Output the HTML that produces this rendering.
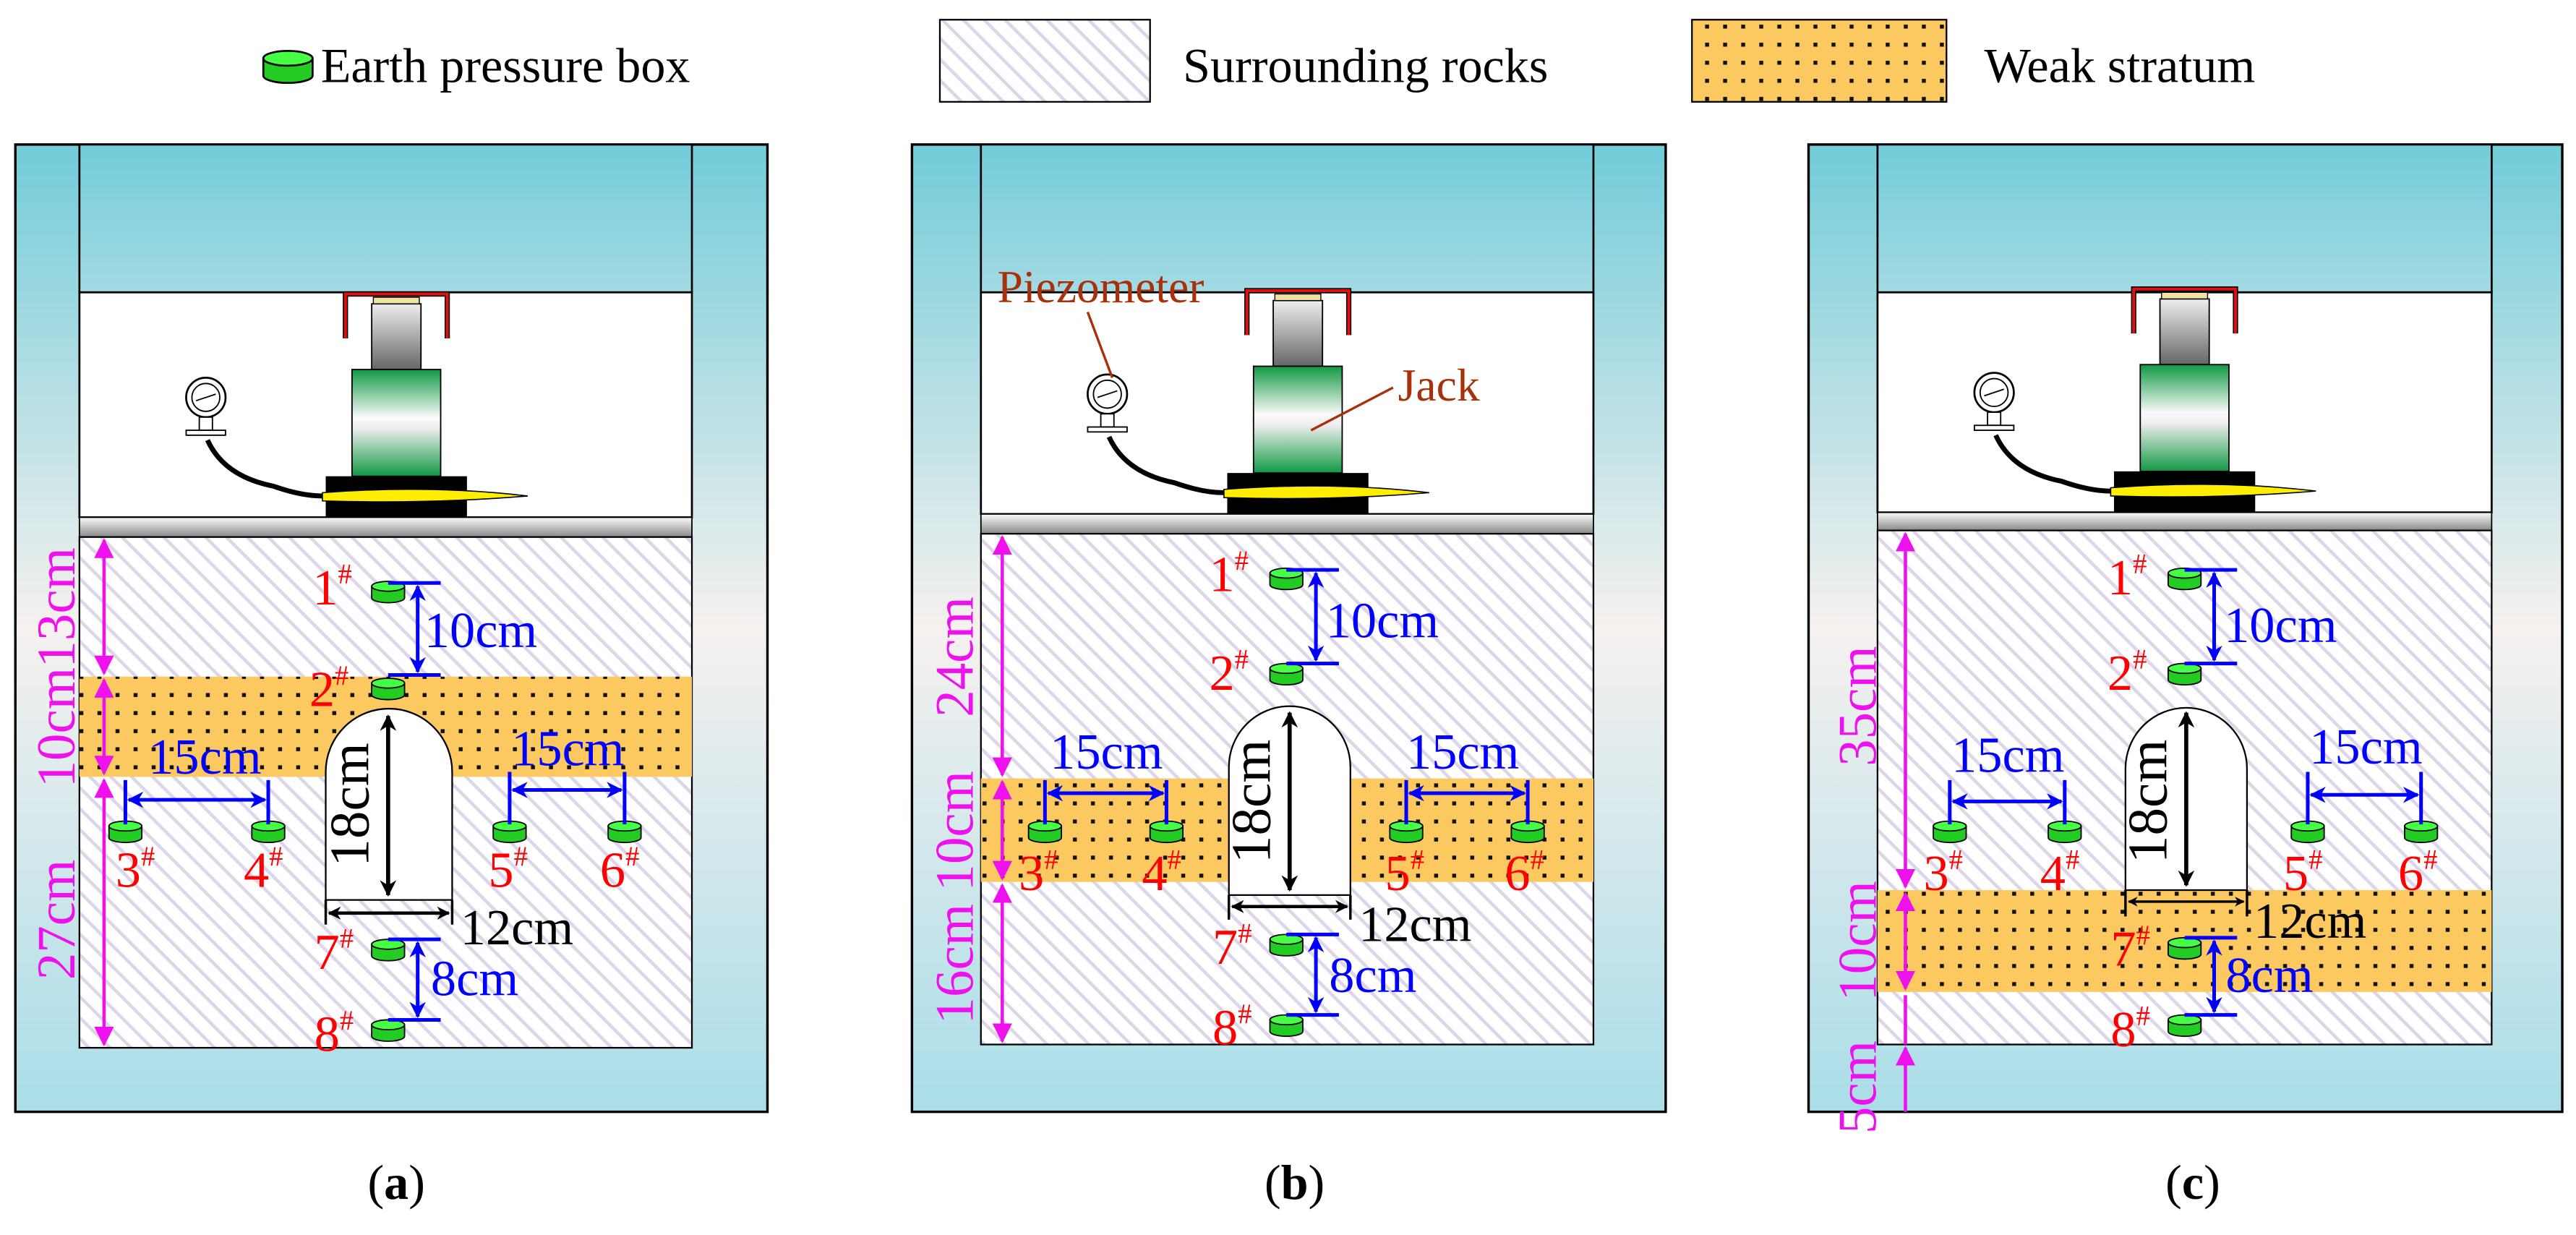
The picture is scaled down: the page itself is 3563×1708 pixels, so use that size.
<!DOCTYPE html>
<html><head><meta charset="utf-8"><style>html,body{margin:0;padding:0;background:#fff}svg{display:block}</style></head><body>
<svg width="3563" height="1708" viewBox="0 0 1568 752" xmlns="http://www.w3.org/2000/svg" font-family="'Liberation Serif',serif">
<defs>
<linearGradient id="fr" x1="0" y1="0" x2="0" y2="1"><stop offset="0" stop-color="#72ccd9"/><stop offset="0.5" stop-color="#f6f1ef"/><stop offset="1" stop-color="#a9dde8"/></linearGradient>
<linearGradient id="bm" x1="0" y1="0" x2="0" y2="1"><stop offset="0" stop-color="#72ccd9"/><stop offset="1" stop-color="#a3dae4"/></linearGradient>
<linearGradient id="pl" x1="0" y1="0" x2="0" y2="1"><stop offset="0" stop-color="#fafafa"/><stop offset="1" stop-color="#8a8a8a"/></linearGradient>
<linearGradient id="st" x1="0" y1="0" x2="0" y2="1"><stop offset="0" stop-color="#eee"/><stop offset="1" stop-color="#666"/></linearGradient>
<linearGradient id="gc" x1="0" y1="0" x2="0" y2="1"><stop offset="0" stop-color="#119944"/><stop offset="0.45" stop-color="#fafafa"/><stop offset="0.55" stop-color="#eee"/><stop offset="1" stop-color="#119944"/></linearGradient>
<pattern id="hat" width="9" height="9" patternUnits="userSpaceOnUse" patternTransform="rotate(-45)"><rect width="9" height="9" fill="#fff"/><rect width="2" height="9" fill="#ddd6ea"/></pattern>
<pattern id="dot" width="11" height="11" patternUnits="userSpaceOnUse"><rect width="11" height="11" fill="#fbc960"/><rect x="4" y="4" width="2.4" height="2.4" fill="#111"/></pattern>
<marker id="ab" viewBox="0 0 10 10" refX="9" refY="5" markerWidth="4.5" markerHeight="4.5" orient="auto-start-reverse"><path d="M0,0L10,5L0,10L3,5Z" fill="#0000ff"/></marker>
<marker id="ak" viewBox="0 0 10 10" refX="9" refY="5" markerWidth="4" markerHeight="4" orient="auto-start-reverse"><path d="M0,0L10,5L0,10L3,5Z" fill="#000"/></marker>
<marker id="ap" viewBox="0 0 10 10" refX="9" refY="5" markerWidth="6" markerHeight="6" orient="auto-start-reverse"><path d="M0,0L10,5L0,10Z" fill="#ee11ee"/></marker>
<g id="sen"><path d="M-10,-3V4A10,3 0 0 0 10,4V-3Z" fill="#22cc22" stroke="#000" stroke-width="0.8"/><ellipse cx="0" cy="-3" rx="10" ry="3" fill="#44ff44" stroke="#000" stroke-width="0.8"/></g>
<g id="jack">
<rect x="-15" y="7" width="30" height="40" fill="url(#st)" stroke="#000" stroke-width="0.8"/>
<rect x="-14" y="3" width="28" height="4" fill="#f2e2a0" stroke="#000" stroke-width="0.6"/>
<path d="M-31,28V1H31V28" fill="none" stroke="#000" stroke-width="3.2"/><path d="M-31,28V1H31V28" fill="none" stroke="#e01010" stroke-width="1.8"/>
<rect x="-27" y="47" width="54" height="65" fill="url(#gc)" stroke="#000" stroke-width="0.8"/>
<rect x="-43" y="112" width="86" height="25" fill="#000"/>
<path d="M-45,122Q20,117 80,124Q20,129 -45,127Z" fill="#ffee00" stroke="#000" stroke-width="0.7"/>
<path d="M-115,90Q-105,112 -75,118Q-58,124 -45,124" fill="none" stroke="#000" stroke-width="3"/>
<circle cx="-116" cy="64" r="12" fill="#fff" stroke="#000" stroke-width="1.2"/><circle cx="-116" cy="64" r="8.5" fill="#fff" stroke="#000" stroke-width="0.8"/>
<line x1="-122" y1="66" x2="-110" y2="62" stroke="#000" stroke-width="0.8"/>
<rect x="-120" y="76" width="8" height="8" fill="#fff" stroke="#000" stroke-width="0.8"/><rect x="-128" y="84" width="24" height="3" fill="#fff" stroke="#000" stroke-width="0.8"/>
</g>
</defs>

<!-- Legend -->
<use href="#sen" transform="translate(175,40) scale(1.5)"/>
<text x="195" y="50" font-size="30">Earth pressure box</text>
<rect x="572" y="12" width="128" height="50" fill="url(#hat)" stroke="#000" stroke-width="1"/>
<text x="720" y="50" font-size="30">Surrounding rocks</text>
<rect x="1030" y="12" width="155" height="50" fill="url(#dot)" stroke="#000" stroke-width="1"/>
<text x="1208" y="50" font-size="30">Weak stratum</text>

<g font-size="31" font-family="'Liberation Serif',serif">
<!-- PANEL A -->
<rect x="9" y="88" width="458" height="589" fill="url(#fr)" stroke="#000" stroke-width="1.5"/>
<rect x="48" y="88" width="373" height="90" fill="url(#bm)" stroke="#000" stroke-width="1.2"/>
<rect x="48" y="178" width="373" height="137" fill="#fff" stroke="#000" stroke-width="1.2"/>
<use href="#jack" transform="translate(241,178)"/>
<rect x="48" y="315" width="373" height="12" fill="url(#pl)" stroke="#000" stroke-width="0.8"/>
<rect x="48" y="327" width="373" height="311" fill="url(#hat)" stroke="#000" stroke-width="1"/>
<rect x="48" y="412" width="373" height="61" fill="url(#dot)"/>
<path d="M198,548V470A38.5,38.5 0 0 1 275,470V548Z" fill="#fff" stroke="#000" stroke-width="1"/>
<line x1="236" y1="436" x2="236" y2="545" stroke="#000" stroke-width="2.5" marker-start="url(#ak)" marker-end="url(#ak)"/>
<text transform="translate(224,490) rotate(-90)" text-anchor="middle" font-size="34">18cm</text>
<path d="M198,548V563M275,548V563" stroke="#000" stroke-width="1.5"/>
<line x1="200" y1="556" x2="273" y2="556" stroke="#000" stroke-width="2" marker-start="url(#ak)" marker-end="url(#ak)"/>
<text x="280" y="575">12cm</text>
<use href="#sen" transform="translate(236,360)"/><use href="#sen" transform="translate(236,419)"/>
<use href="#sen" transform="translate(76,506)"/><use href="#sen" transform="translate(163,506)"/>
<use href="#sen" transform="translate(310,506)"/><use href="#sen" transform="translate(380,506)"/>
<use href="#sen" transform="translate(236,578)"/><use href="#sen" transform="translate(236,627)"/>
<g stroke="#0000ff" stroke-width="2.2" fill="none">
<path d="M236,355H268M236,411H268M76,475V502M163,475V502M310,470V502M380,470V502M236,572H268M236,621H268"/>
<line x1="254" y1="357" x2="254" y2="409" marker-start="url(#ab)" marker-end="url(#ab)"/>
<line x1="78" y1="487" x2="161" y2="487" marker-start="url(#ab)" marker-end="url(#ab)"/>
<line x1="312" y1="481" x2="378" y2="481" marker-start="url(#ab)" marker-end="url(#ab)"/>
<line x1="254" y1="574" x2="254" y2="619" marker-start="url(#ab)" marker-end="url(#ab)"/>
</g>
<g fill="#0000ff"><text x="258" y="394">10cm</text><text x="90" y="471">15cm</text><text x="311" y="466">15cm</text><text x="262" y="606">8cm</text></g>
<g fill="#ff0000"><text x="190" y="368">1<tspan font-size="17" dy="-13">#</tspan></text><text x="188" y="430">2<tspan font-size="17" dy="-13">#</tspan></text>
<text x="70" y="540">3<tspan font-size="17" dy="-13">#</tspan></text><text x="148" y="540">4<tspan font-size="17" dy="-13">#</tspan></text>
<text x="297" y="540">5<tspan font-size="17" dy="-13">#</tspan></text><text x="365" y="540">6<tspan font-size="17" dy="-13">#</tspan></text>
<text x="191" y="590">7<tspan font-size="17" dy="-13">#</tspan></text><text x="191" y="640">8<tspan font-size="17" dy="-13">#</tspan></text></g>
<g stroke="#ee11ee" stroke-width="2"><line x1="63" y1="329" x2="63" y2="410" marker-start="url(#ap)" marker-end="url(#ap)"/><line x1="63" y1="414" x2="63" y2="471" marker-start="url(#ap)" marker-end="url(#ap)"/><line x1="63" y1="475" x2="63" y2="636" marker-start="url(#ap)" marker-end="url(#ap)"/></g>
<g fill="#ee11ee" font-size="33"><text transform="translate(45,370) rotate(-90)" text-anchor="middle">13cm</text><text transform="translate(45,443) rotate(-90)" text-anchor="middle">10cm</text><text transform="translate(45,560) rotate(-90)" text-anchor="middle">27cm</text></g>

<!-- PANEL B -->
<rect x="555" y="88" width="459" height="589" fill="url(#fr)" stroke="#000" stroke-width="1.5"/>
<rect x="597" y="88" width="373" height="90" fill="url(#bm)" stroke="#000" stroke-width="1.2"/>
<rect x="597" y="178" width="373" height="135" fill="#fff" stroke="#000" stroke-width="1.2"/>
<use href="#jack" transform="translate(790,176)"/>
<rect x="597" y="313" width="373" height="12" fill="url(#pl)" stroke="#000" stroke-width="0.8"/>
<rect x="597" y="325" width="373" height="311" fill="url(#hat)" stroke="#000" stroke-width="1"/>
<rect x="597" y="474" width="373" height="63" fill="url(#dot)"/>
<path d="M748,545V467A37,37 0 0 1 822,467V545Z" fill="#fff" stroke="#000" stroke-width="1"/>
<line x1="785" y1="434" x2="785" y2="542" stroke="#000" stroke-width="2.5" marker-start="url(#ak)" marker-end="url(#ak)"/>
<text transform="translate(773,488) rotate(-90)" text-anchor="middle" font-size="34">18cm</text>
<path d="M748,545V560M822,545V560" stroke="#000" stroke-width="1.5"/>
<line x1="750" y1="552" x2="820" y2="552" stroke="#000" stroke-width="2" marker-start="url(#ak)" marker-end="url(#ak)"/>
<text x="827" y="573">12cm</text>
<use href="#sen" transform="translate(783,352)"/><use href="#sen" transform="translate(783,410)"/>
<use href="#sen" transform="translate(636,506)"/><use href="#sen" transform="translate(710,506)"/>
<use href="#sen" transform="translate(856,506)"/><use href="#sen" transform="translate(930,506)"/>
<use href="#sen" transform="translate(783,575)"/><use href="#sen" transform="translate(783,624)"/>
<g stroke="#0000ff" stroke-width="2.2" fill="none">
<path d="M783,347H815M783,404H815M636,475V502M710,475V502M856,475V502M930,475V502M783,569H815M783,618H815"/>
<line x1="801" y1="349" x2="801" y2="402" marker-start="url(#ab)" marker-end="url(#ab)"/>
<line x1="638" y1="483" x2="708" y2="483" marker-start="url(#ab)" marker-end="url(#ab)"/>
<line x1="858" y1="483" x2="928" y2="483" marker-start="url(#ab)" marker-end="url(#ab)"/>
<line x1="801" y1="571" x2="801" y2="616" marker-start="url(#ab)" marker-end="url(#ab)"/>
</g>
<g fill="#0000ff"><text x="807" y="388">10cm</text><text x="639" y="468">15cm</text><text x="856" y="468">15cm</text><text x="809" y="604">8cm</text></g>
<g fill="#ff0000"><text x="736" y="360">1<tspan font-size="17" dy="-13">#</tspan></text><text x="736" y="420">2<tspan font-size="17" dy="-13">#</tspan></text>
<text x="620" y="542">3<tspan font-size="17" dy="-13">#</tspan></text><text x="695" y="542">4<tspan font-size="17" dy="-13">#</tspan></text>
<text x="843" y="542">5<tspan font-size="17" dy="-13">#</tspan></text><text x="916" y="542">6<tspan font-size="17" dy="-13">#</tspan></text>
<text x="738" y="587">7<tspan font-size="17" dy="-13">#</tspan></text><text x="738" y="636">8<tspan font-size="17" dy="-13">#</tspan></text></g>
<g stroke="#ee11ee" stroke-width="2"><line x1="610" y1="327" x2="610" y2="472" marker-start="url(#ap)" marker-end="url(#ap)"/><line x1="610" y1="476" x2="610" y2="535" marker-start="url(#ap)" marker-end="url(#ap)"/><line x1="610" y1="539" x2="610" y2="634" marker-start="url(#ap)" marker-end="url(#ap)"/></g>
<g fill="#ee11ee" font-size="33"><text transform="translate(592,400) rotate(-90)" text-anchor="middle">24cm</text><text transform="translate(592,506) rotate(-90)" text-anchor="middle">10cm</text><text transform="translate(592,587) rotate(-90)" text-anchor="middle">16cm</text></g>
<g fill="#a8300a" font-size="28"><text x="607" y="184">Piezometer</text><text x="851" y="244">Jack</text></g>
<path d="M662,190L677,230M848,236L798,262" stroke="#a8300a" stroke-width="1.5"/>

<!-- PANEL C -->
<rect x="1101" y="88" width="459" height="589" fill="url(#fr)" stroke="#000" stroke-width="1.5"/>
<rect x="1143" y="88" width="374" height="90" fill="url(#bm)" stroke="#000" stroke-width="1.2"/>
<rect x="1143" y="178" width="374" height="134" fill="#fff" stroke="#000" stroke-width="1.2"/>
<use href="#jack" transform="translate(1330,175)"/>
<rect x="1143" y="312" width="374" height="11" fill="url(#pl)" stroke="#000" stroke-width="0.8"/>
<rect x="1143" y="323" width="374" height="313" fill="url(#hat)" stroke="#000" stroke-width="1"/>
<rect x="1143" y="542" width="374" height="62" fill="url(#dot)"/>
<path d="M1294,542V468A37,37 0 0 1 1368,468V542Z" fill="#fff" stroke="#000" stroke-width="1"/>
<line x1="1331" y1="434" x2="1331" y2="539" stroke="#000" stroke-width="2.5" marker-start="url(#ak)" marker-end="url(#ak)"/>
<text transform="translate(1319,488) rotate(-90)" text-anchor="middle" font-size="34">18cm</text>
<path d="M1294,542V558M1368,542V558" stroke="#000" stroke-width="1.5"/>
<line x1="1296" y1="549" x2="1366" y2="549" stroke="#000" stroke-width="1.5" marker-start="url(#ak)" marker-end="url(#ak)"/>
<text x="1372" y="571">12cm</text>
<use href="#sen" transform="translate(1330,352)"/><use href="#sen" transform="translate(1330,410)"/>
<use href="#sen" transform="translate(1187,506)"/><use href="#sen" transform="translate(1257,506)"/>
<use href="#sen" transform="translate(1405,506)"/><use href="#sen" transform="translate(1474,506)"/>
<use href="#sen" transform="translate(1330,577)"/><use href="#sen" transform="translate(1330,624)"/>
<g stroke="#0000ff" stroke-width="2.2" fill="none">
<path d="M1330,347H1362M1330,404H1362M1187,475V502M1257,475V502M1405,470V502M1474,470V502M1330,571H1362M1330,618H1362"/>
<line x1="1348" y1="349" x2="1348" y2="402" marker-start="url(#ab)" marker-end="url(#ab)"/>
<line x1="1189" y1="488" x2="1255" y2="488" marker-start="url(#ab)" marker-end="url(#ab)"/>
<line x1="1407" y1="484" x2="1472" y2="484" marker-start="url(#ab)" marker-end="url(#ab)"/>
<line x1="1348" y1="573" x2="1348" y2="616" marker-start="url(#ab)" marker-end="url(#ab)"/>
</g>
<g fill="#0000ff"><text x="1354" y="391">10cm</text><text x="1188" y="470">15cm</text><text x="1406" y="465">15cm</text><text x="1355" y="604">8cm</text></g>
<g fill="#ff0000"><text x="1283" y="362">1<tspan font-size="17" dy="-13">#</tspan></text><text x="1283" y="420">2<tspan font-size="17" dy="-13">#</tspan></text>
<text x="1171" y="542">3<tspan font-size="17" dy="-13">#</tspan></text><text x="1242" y="542">4<tspan font-size="17" dy="-13">#</tspan></text>
<text x="1390" y="542">5<tspan font-size="17" dy="-13">#</tspan></text><text x="1460" y="542">6<tspan font-size="17" dy="-13">#</tspan></text>
<text x="1285" y="588">7<tspan font-size="17" dy="-13">#</tspan></text><text x="1285" y="637">8<tspan font-size="17" dy="-13">#</tspan></text></g>
<g stroke="#ee11ee" stroke-width="2"><line x1="1160" y1="325" x2="1160" y2="540" marker-start="url(#ap)" marker-end="url(#ap)"/><line x1="1160" y1="544" x2="1160" y2="602" marker-start="url(#ap)" marker-end="url(#ap)"/><line x1="1160" y1="638" x2="1160" y2="677" marker-start="url(#ap)"/><line x1="1160" y1="606" x2="1160" y2="636"/></g>
<g fill="#ee11ee" font-size="33"><text transform="translate(1142,430) rotate(-90)" text-anchor="middle">35cm</text><text transform="translate(1142,573) rotate(-90)" text-anchor="middle">10cm</text><text transform="translate(1142,662) rotate(-90)" text-anchor="middle">5cm</text></g>
</g>

<g font-size="30"><text x="241" y="730" text-anchor="middle">(<tspan font-weight="bold">a</tspan>)</text><text x="788" y="730" text-anchor="middle">(<tspan font-weight="bold">b</tspan>)</text><text x="1335" y="730" text-anchor="middle">(<tspan font-weight="bold">c</tspan>)</text></g>
</svg>
</body></html>
